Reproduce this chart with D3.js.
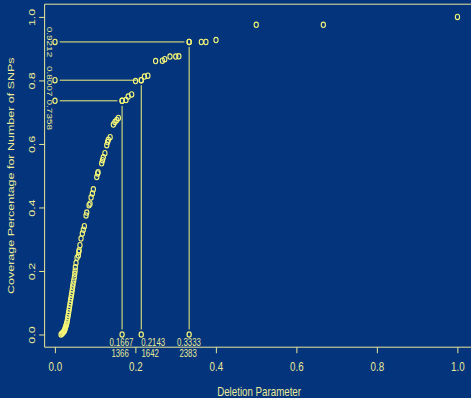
<!DOCTYPE html>
<html>
<head>
<meta charset="utf-8">
<script src="https://cdn.jsdelivr.net/npm/d3@7"></script>
<style>
  html, body { margin: 0; padding: 0; background: #03347c; overflow: hidden; }
  svg { display: block; }
  text { font-family: "Liberation Sans", Arial, sans-serif; fill: #eaea98; }
</style>
</head>
<body>
<svg id="chart"></svg>
<script>
// cumulative coverage vs deletion parameter
const deletionParam = [
  0.015, 0.017, 0.019, 0.021, 0.023, 0.024, 0.025, 0.026, 0.027, 0.028,
  0.029, 0.030, 0.031, 0.032, 0.033, 0.034, 0.035, 0.036, 0.037, 0.038,
  0.039, 0.040, 0.041, 0.042, 0.043, 0.044, 0.045, 0.0465, 0.048, 0.049,
  0.050, 0.0505, 0.0522, 0.0547, 0.058, 0.059, 0.060, 0.062, 0.0647, 0.0679,
  0.0704, 0.0729, 0.0771, 0.0789, 0.0846, 0.087, 0.0896, 0.0928, 0.0953, 0.1037,
  0.106, 0.107, 0.116, 0.118, 0.120, 0.124, 0.1286, 0.1306, 0.1326, 0.137,
  0.145, 0.149, 0.1535, 0.1575, 0.1667, 0.1765, 0.1818, 0.1905, 0.2, 0.2143,
  0.2222, 0.2308, 0.25, 0.2667, 0.2727, 0.2857, 0.3, 0.3077, 0.3333, 0.3636,
  0.375, 0.4, 0.5, 0.6667, 1.0
];
const coverage = [
  0.000, 0.002, 0.005, 0.008, 0.011, 0.014, 0.018, 0.022, 0.026, 0.031,
  0.035, 0.040, 0.047, 0.055, 0.062, 0.070, 0.078, 0.086, 0.094, 0.102,
  0.110, 0.118, 0.126, 0.133, 0.142, 0.151, 0.160, 0.170, 0.180, 0.191,
  0.201, 0.212, 0.225, 0.242, 0.249, 0.260, 0.265, 0.281, 0.302, 0.318,
  0.330, 0.341, 0.375, 0.384, 0.407, 0.412, 0.431, 0.444, 0.457, 0.496,
  0.507, 0.511, 0.539, 0.549, 0.558, 0.571, 0.596, 0.606, 0.613, 0.621,
  0.661, 0.669, 0.675, 0.682, 0.7358, 0.738, 0.749, 0.756, 0.798, 0.8007,
  0.812, 0.815, 0.861, 0.862, 0.867, 0.875, 0.875, 0.876, 0.9212, 0.921,
  0.921, 0.927, 0.975, 0.975, 1.0
];

// highlighted cut-offs
const markCuts = [0.1667, 0.2143, 0.3333];
const markCoverage = [0.7358, 0.8007, 0.9212];
const markCounts = ["1366", "1642", "2383"];

const xTicks = [0, 0.2, 0.4, 0.6, 0.8, 1.0];
const yTicks = [0, 0.2, 0.4, 0.6, 0.8, 1.0];
const xTitle = "Deletion Parameter";
const yTitle = "Coverage Percentage for Number of SNPs";

// the picture is squeezed sideways, so draw wide and squash with the viewBox
const width = 471, height = 398, squash = 0.78;
const vw = width / squash;

const axisCol = "#eaea98";
const guideCol = "#f2f27a";
const pointCol = "#f6f676";
const r = 2.7;

const svg = d3.select("#chart")
    .attr("width", width)
    .attr("height", height)
    .attr("viewBox", `0 0 ${vw} ${height}`)
    .attr("preserveAspectRatio", "none");

const x = d3.scaleLinear()
    .domain([-0.0258, 1.04])
    .range([57.2, 57.2 + 1.0658 * 516]);

const y = d3.scaleLinear()
    .domain([-0.04, 1.04])
    .range([347.2, 4.2]);

const points = deletionParam.map((d, i) => ({x: d, y: coverage[i]}));

// box
svg.append("rect")
    .attr("x", x.range()[0])
    .attr("y", y.range()[1])
    .attr("width", x.range()[1] - x.range()[0])
    .attr("height", y.range()[0] - y.range()[1])
    .attr("fill", "none")
    .attr("stroke", axisCol)
    .attr("vector-effect", "non-scaling-stroke");

// x axis
const gx = svg.append("g")
    .attr("transform", `translate(0,${y.range()[0]})`)
    .call(d3.axisBottom(x).tickValues(xTicks).tickFormat(d3.format(".1f")).tickSize(6));
gx.select(".domain").remove();
gx.selectAll("line").attr("stroke", axisCol).attr("vector-effect", "non-scaling-stroke");
gx.selectAll("text")
    .attr("y", 24.3).attr("dy", null)
    .attr("fill", axisCol)
    .style("font-size", "12.5px");

// y axis
const gy = svg.append("g")
    .attr("transform", `translate(${x.range()[0]},0)`)
    .call(d3.axisLeft(y).tickValues(yTicks).tickFormat(d3.format(".1f")).tickSize(7));
gy.select(".domain").remove();
gy.selectAll("line").attr("stroke", axisCol).attr("vector-effect", "non-scaling-stroke");
gy.selectAll("text")
    .attr("x", null).attr("dy", null)
    .attr("text-anchor", "middle")
    .attr("transform", "translate(-12.3,0) rotate(-90)")
    .attr("fill", axisCol)
    .style("font-size", "12.5px");

// titles
svg.append("text")
    .attr("x", (x.range()[0] + x.range()[1]) / 2)
    .attr("y", 396.5)
    .attr("text-anchor", "middle")
    .style("font-size", "12.5px")
    .text(xTitle);

svg.append("text")
    .attr("transform", `translate(17.5,${(y.range()[0] + y.range()[1]) / 2}) rotate(-90)`)
    .attr("text-anchor", "middle")
    .style("font-size", "12.5px")
    .text(yTitle);

// guide lines for the cut-offs
const gap = 6;
const guides = svg.append("g")
    .attr("stroke", guideCol);

markCuts.forEach((c, i) => {
    const p = markCoverage[i];
    guides.append("line")
        .attr("x1", x(0) + gap).attr("x2", x(c) - gap)
        .attr("y1", y(p)).attr("y2", y(p))
        .attr("vector-effect", "non-scaling-stroke");
    guides.append("line")
        .attr("x1", x(c)).attr("x2", x(c))
        .attr("y1", y(p) + 5).attr("y2", y(0) - 5)
        .attr("vector-effect", "non-scaling-stroke");
});

// end circles of the guides
const ends = markCuts.flatMap((c, i) => [{x: 0, y: markCoverage[i]}, {x: c, y: 0}, {x: c, y: markCoverage[i]}]);
svg.append("g")
    .selectAll("circle")
    .data(ends)
    .join("circle")
    .attr("cx", d => x(d.x))
    .attr("cy", d => y(d.y))
    .attr("r", r)
    .attr("fill", "none")
    .attr("stroke", guideCol)
    .attr("stroke-width", 1.2)
    .attr("vector-effect", "non-scaling-stroke");

// labels on the guides (nudged where they would overlap)
const leftDy = [14, 1, 0];
const valueDx = [-0.9, 15.3, -0.3];
const countDx = [-2.6, 11.4, -1.3];

svg.append("g")
    .selectAll("text")
    .data(markCoverage)
    .join("text")
    .attr("transform", (d, i) => `translate(59.9,${y(d) + leftDy[i]}) rotate(90)`)
    .attr("text-anchor", "middle")
    .style("font-size", "10px")
    .text(d => d3.format(".4f")(d));

svg.append("g")
    .selectAll("text")
    .data(markCuts)
    .join("text")
    .attr("x", (d, i) => x(d) + valueDx[i])
    .attr("y", 346.5)
    .attr("text-anchor", "middle")
    .style("font-size", "10px")
    .text(d => d3.format(".4f")(d));

svg.append("g")
    .selectAll("text")
    .data(markCounts)
    .join("text")
    .attr("x", (d, i) => x(markCuts[i]) + countDx[i])
    .attr("y", 357.3)
    .attr("text-anchor", "middle")
    .style("font-size", "10px")
    .text(d => d);

// data points
svg.append("g")
    .selectAll("circle")
    .data(points)
    .join("circle")
    .attr("cx", d => x(d.x))
    .attr("cy", d => y(d.y))
    .attr("r", r)
    .attr("fill", "none")
    .attr("stroke", pointCol)
    .attr("stroke-width", 1.1)
    .attr("vector-effect", "non-scaling-stroke");
</script>
</body>
</html>
